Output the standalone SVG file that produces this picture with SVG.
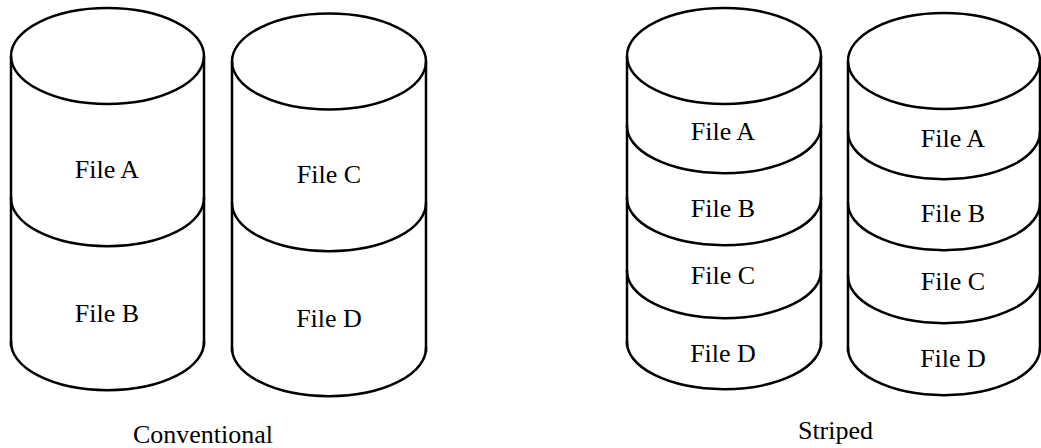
<svg xmlns="http://www.w3.org/2000/svg" width="1041" height="448" viewBox="0 0 1041 448">
<style>
.s{fill:none;stroke:#000;stroke-width:2.5}
text{font-family:'Liberation Serif','Times New Roman','DejaVu Serif',serif;font-size:26px;fill:#000;text-anchor:middle}
</style>
<rect width="1041" height="448" fill="#fff"/>
<g id="conv-disk1" font-family="Liberation Serif, serif">
<ellipse class="s" cx="107.5" cy="56" rx="96.5" ry="48"/>
<line class="s" x1="11" y1="56" x2="11" y2="346"/>
<line class="s" x1="204" y1="56" x2="204" y2="346"/>
<path class="s" d="M203.97 197 A96.5 48 0 1 1 11.03 197"/>
<path class="s" d="M203.97 341 A96.5 48 0 1 1 11.03 341"/>
<text x="107" y="178">File A</text>
<text x="107" y="322">File B</text>
</g>
<g id="conv-disk2">
<ellipse class="s" cx="329" cy="61.5" rx="97" ry="48"/>
<line class="s" x1="232" y1="61.5" x2="232" y2="352"/>
<line class="s" x1="426" y1="61.5" x2="426" y2="352"/>
<path class="s" d="M425.97 202 A97 48 0 1 1 232.03 202"/>
<path class="s" d="M425.97 347 A97 48 0 1 1 232.03 347"/>
<text x="329" y="183">File C</text>
<text x="329" y="327">File D</text>
</g>
<g id="striped-disk1">
<ellipse class="s" cx="724" cy="56" rx="97" ry="48"/>
<line class="s" x1="627" y1="56" x2="627" y2="346"/>
<line class="s" x1="821" y1="56" x2="821" y2="346"/>
<path class="s" d="M820.97 125 A97 47 0 1 1 627.03 125"/>
<path class="s" d="M820.97 197 A97 47 0 1 1 627.03 197"/>
<path class="s" d="M820.97 270 A97 47 0 1 1 627.03 270"/>
<path class="s" d="M820.97 341 A97 47 0 1 1 627.03 341"/>
<text x="723" y="140">File A</text>
<text x="723" y="217">File B</text>
<text x="723" y="284">File C</text>
<text x="723" y="362">File D</text>
</g>
<g id="striped-disk2">
<ellipse class="s" cx="944" cy="61" rx="96" ry="48"/>
<line class="s" x1="848" y1="61" x2="848" y2="352"/>
<line class="s" x1="1040" y1="61" x2="1040" y2="352"/>
<path class="s" d="M1039.97 131 A96 47 0 1 1 848.03 131"/>
<path class="s" d="M1039.97 202 A96 47 0 1 1 848.03 202"/>
<path class="s" d="M1039.97 275 A96 47 0 1 1 848.03 275"/>
<path class="s" d="M1039.97 347 A96 47 0 1 1 848.03 347"/>
<text x="953" y="147">File A</text>
<text x="953" y="222">File B</text>
<text x="953" y="290">File C</text>
<text x="953" y="367">File D</text>
</g>
<g id="labels">
<text x="203" y="443">Conventional</text>
<text x="835.5" y="439">Striped</text>
</g>
</svg>
